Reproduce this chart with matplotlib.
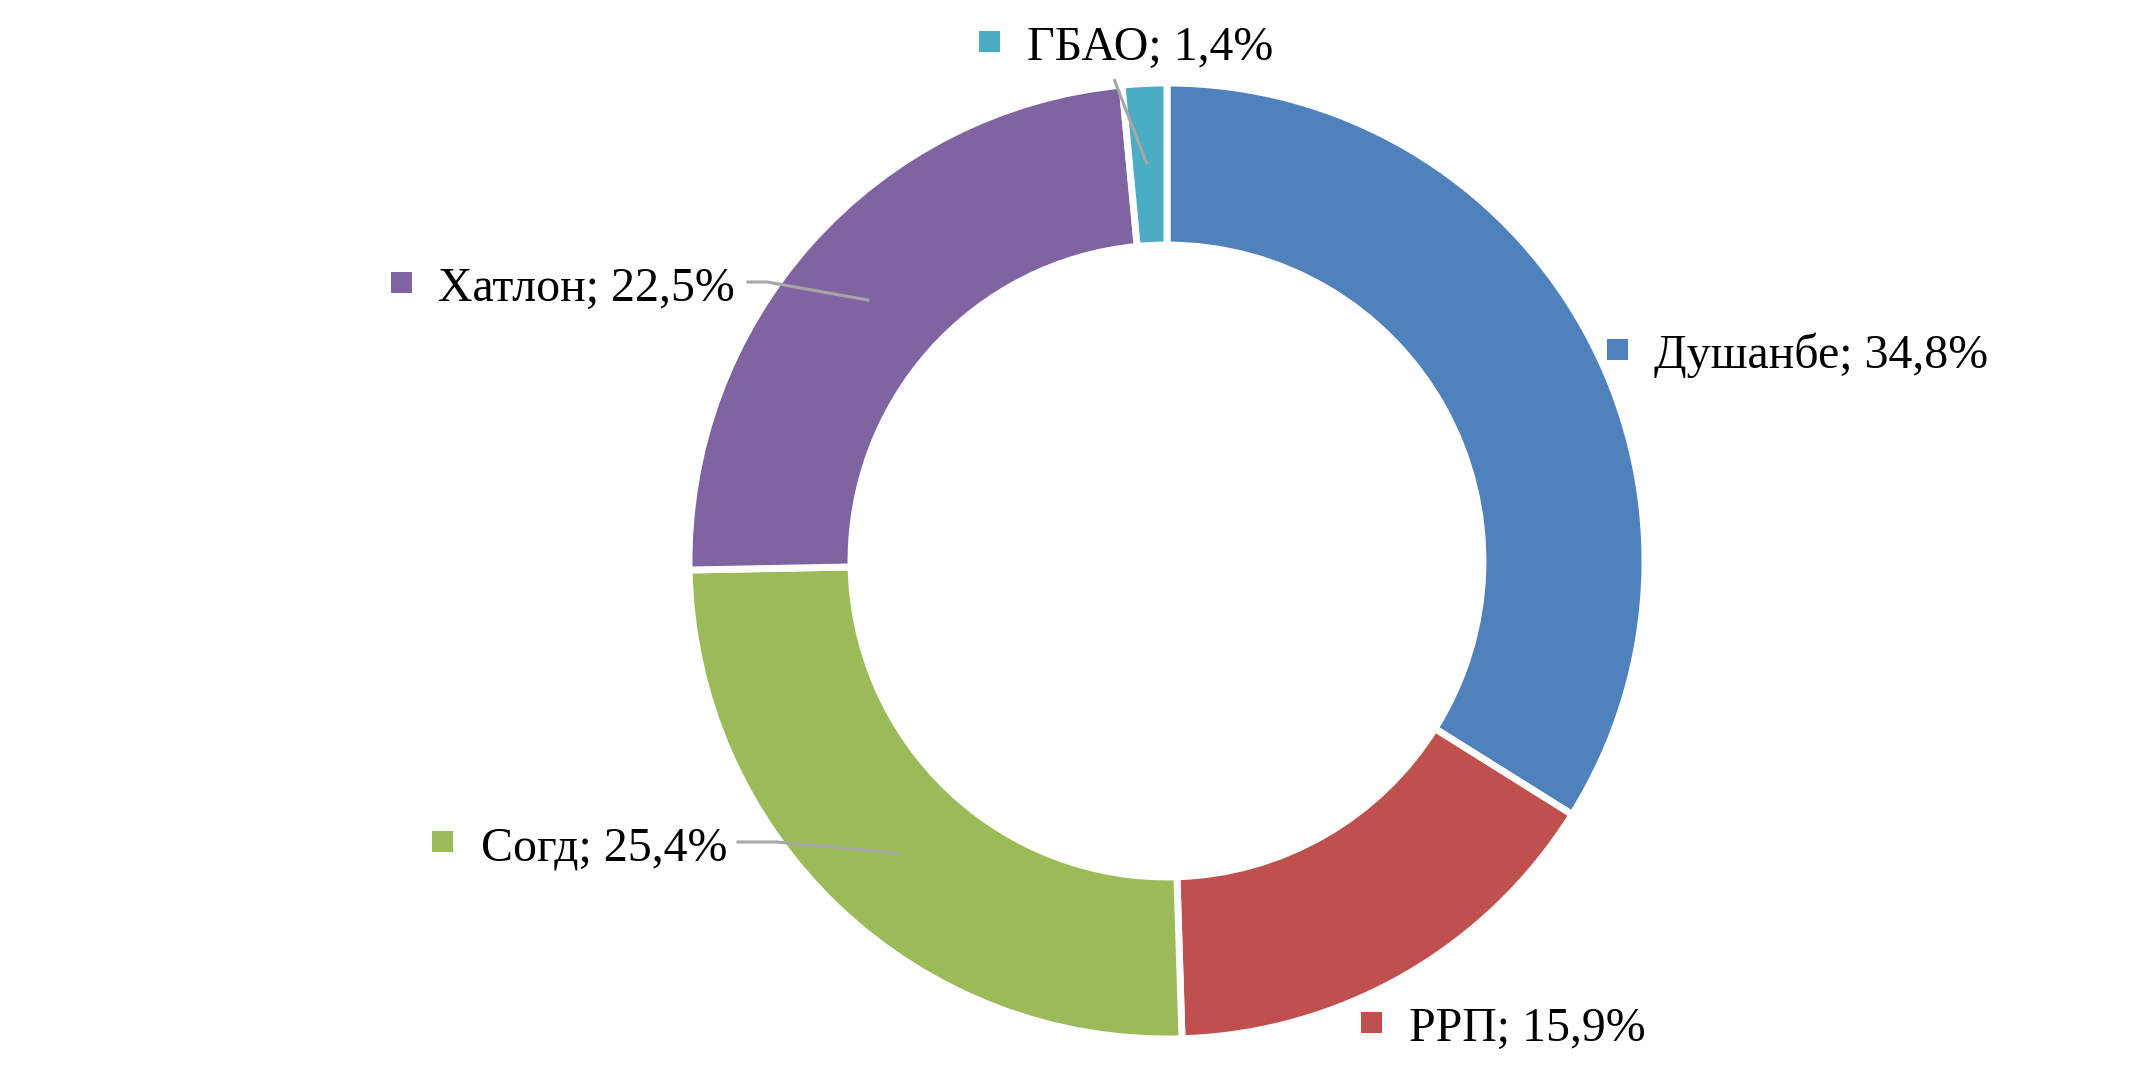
import matplotlib.pyplot as plt

regions = ["Душанбе", "РРП", "Согд", "Хатлон", "ГБАО"]
# wedge sizes as they are drawn in the picture
shares = [33.9, 15.6, 25.2, 23.8, 1.5]
# percentages as printed in the labels
label_pct = ["34,8%", "15,9%", "25,4%", "22,5%", "1,4%"]
colors = ["#4F81BD", "#C0504D", "#9BBB59", "#8064A2", "#4BACC6"]

W, H = 2144, 1083
fig = plt.figure(figsize=(W / 100, H / 100), dpi=100)
ax = fig.add_axes([0, 0, 1, 1])

cx, cy, r = 1167, H - 561, 478
ax.pie(shares, colors=colors, startangle=90, counterclock=False,
       center=(cx, cy), radius=r, frame=True,
       wedgeprops=dict(width=r * 0.339, edgecolor="white", linewidth=5))
ax.set_xlim(0, W)
ax.set_ylim(0, H)
ax.axis("off")

# label layout (pixel coords from top-left): square x, text x, baseline y
label_pos = {
    "Душанбе": (1607, 1654, 368),
    "РРП": (1361, 1409, 1041),
    "Согд": (432, 481, 860),
    "Хатлон": (391, 438, 301),
    "ГБАО": (979, 1027, 60),
}

for name, pct, col in zip(regions, label_pct, colors):
    sx, tx, by = label_pos[name]
    ax.add_patch(plt.Rectangle((sx, H - by + 8), 21, 21, color=col, lw=0))
    ax.text(tx, H - by, f"{name}; {pct}", ha="left", va="baseline",
            fontsize=34.5, family="Liberation Serif", color="black")

# leader lines
lc = "#A6A6A6"
ax.plot([1114, 1147], [H - 79, H - 164], color=lc, lw=2.2, solid_capstyle="butt")
ax.plot([748, 767, 868], [H - 282, H - 282, H - 300], color=lc, lw=2.2)
ax.plot([738, 777, 897], [H - 842, H - 842, H - 853], color=lc, lw=2.2)

fig.savefig("out.png", dpi=100)
